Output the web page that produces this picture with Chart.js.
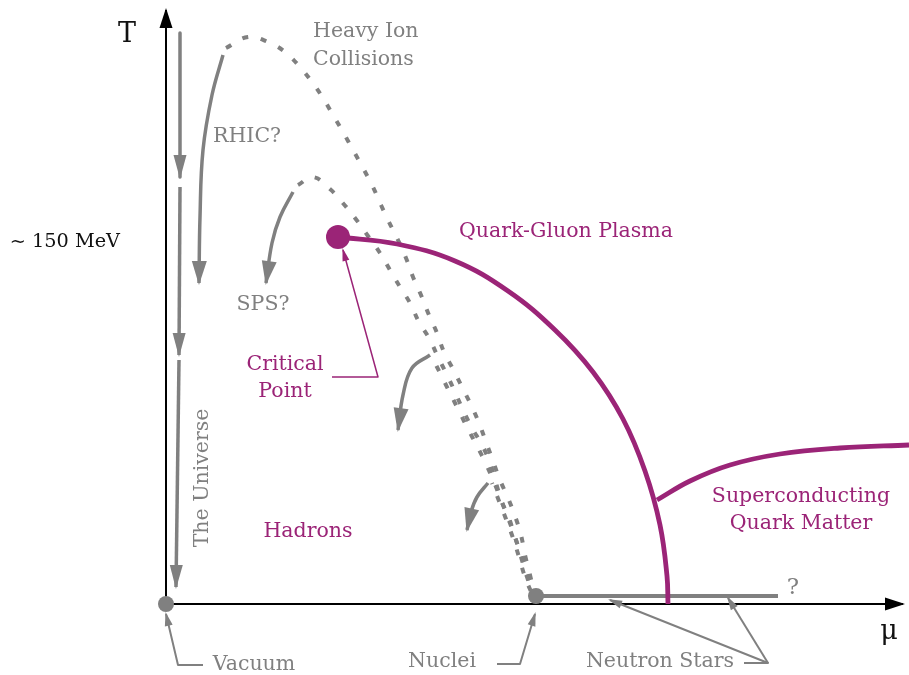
<!DOCTYPE html>
<html>
<head>
<meta charset="utf-8">
<script src="https://cdn.jsdelivr.net/npm/chart.js@4/dist/chart.umd.min.js"></script>
<style>
  html, body { margin: 0; padding: 0; background: #ffffff; }
  #wrap { width: 909px; height: 675px; }
</style>
</head>
<body>
<div id="wrap"><canvas id="c" width="909" height="675"></canvas></div>
<script>
// Axes are in arbitrary units (mu to the right, T upward), origin = vacuum.
// ---- Data ----
const phaseBoundary = [[172,367],[231,360],[289,343],[342,313],[389,274],[427,232],[457,185],[479,133],[494,79],[501,28],[502,0]];
const superconductingBoundary = [[491,104],[524,123],[564,139],[614,150],[674,156],[743,159]];
const neutronStarLine = [[370,8],[612,8]];
const criticalPoint = [[172,367]];
const vacuumPoint = [[0,0]];
const nucleiPoint = [[370,8]];

const rhicDotted = [[60,556],[82,567],[102,562],[119,552],[134,537],[146,522],[157,506],[167,489],[177,472],[187,454],[197,436],[207,417],[215,399],[223,382],[232,364],[240,346],[247,327],[255,309],[263,289],[271,271],[278,252],[287,235],[296,217],[305,199],[313,181],[320,162],[327,143],[334,124],[342,106],[349,88],[355,69],[359,49],[364,29],[368,12]];
const spsDotted = [[132,419],[147,427],[164,415],[176,402],[189,386],[202,368],[214,351],[224,334],[234,317],[244,301],[253,282],[263,266],[272,247],[281,229],[289,212],[297,194],[306,176],[316,159],[324,141],[330,121],[336,102],[343,86],[349,67],[356,47],[362,27],[367,11]];
const thirdDotted = [[266,247],[275,229],[284,211],[293,193],[302,175],[311,158],[320,140],[328,122],[335,104],[342,86],[349,67],[355,47],[361,27],[367,10]];
const fourthDotted = [[326,121],[333,103],[340,85],[347,66],[353,47],[359,27],[366,10]];

const rhicArrow = [[57,549],[46,509],[37,454],[34,387],[33,321]];
const spsArrow = [[127,412],[114,387],[106,361],[100,321]];
const thirdArrow = [[264,249],[246,236],[237,209],[232,174]];
const fourthArrow = [[322,121],[311,107],[305,92],[301,74]];
const universe1 = [[14,571],[14,427]];
const universe2 = [[14,417],[13,249]];
const universe3 = [[13,244],[10,17]];

const tAxis = [[0,0],[0,594]];
const muAxis = [[0,0],[737,0]];

const criticalPointer = [[166,227],[212,227],[177,354]];
const vacuumPointer = [[37,-61],[12,-61],[0,-10]];
const nucleiPointer = [[331,-60],[354,-60],[369,-10]];
const neutronPointerA = [[578,-59],[602,-59],[444,4]];
const neutronPointerB = [[602,-59],[562,6]];

const textLabels = [
  {text:'Heavy Ion', x:147, y:572, c:'gray', align:'left'},
  {text:'Collisions', x:147, y:544, c:'gray', align:'left'},
  {text:'RHIC?', x:47, y:467, c:'gray', align:'left'},
  {text:'SPS?', x:97, y:299, c:'gray'},
  {text:'Critical', x:119, y:239, c:'purple'},
  {text:'Point', x:119, y:212, c:'purple'},
  {text:'Quark-Gluon Plasma', x:400, y:372, c:'purple'},
  {text:'Hadrons', x:142, y:72, c:'purple'},
  {text:'Superconducting', x:635, y:107, c:'purple'},
  {text:'Quark Matter', x:635, y:80, c:'purple'},
  {text:'The Universe', x:37, y:126, c:'gray', rotate:true},
  {text:'Vacuum', x:88, y:-61, c:'gray'},
  {text:'Nuclei', x:276, y:-58, c:'gray'},
  {text:'Neutron Stars', x:494, y:-58, c:'gray'},
  {text:'?', x:627, y:16, c:'gray', size:23},
  {text:'~ 150 MeV', x:-46, y:362, c:'black', align:'right', size:19.3},
  {text:'T', x:-39, y:569, c:'black', size:27},
  {text:'\u03BC', x:723, y:-28, c:'black', size:27}
];

// ---- Styling ----
const PURPLE = '#9B2477';
const GRAY = '#808080';
const COLORS = {purple: PURPLE, gray: GRAY, black: '#111111'};
const FONT = '"DejaVu Serif", "Liberation Serif", serif';

const pts = arr => arr.map(p => ({x: p[0], y: p[1]}));
function line(arr, color, width, extra) {
  return Object.assign({
    data: pts(arr), showLine: true, borderColor: color, backgroundColor: color,
    borderWidth: width, pointRadius: 0, tension: 0, fill: false,
    borderCapStyle: 'butt', borderJoinStyle: 'round'
  }, extra || {});
}
function dot(arr, color, r) {
  return {data: pts(arr), showLine: false, pointRadius: r, pointHoverRadius: r,
          backgroundColor: color, borderColor: color, borderWidth: 0};
}

const DOTS = [6, 13];
const datasets = [
  dot(criticalPoint, PURPLE, 12),
  dot(vacuumPoint, GRAY, 8),
  dot(nucleiPoint, GRAY, 8),
  line(phaseBoundary, PURPLE, 4.8, {tension: 0.4}),
  line(superconductingBoundary, PURPLE, 4.8, {tension: 0.4}),
  line(neutronStarLine, GRAY, 4),
  line(rhicArrow, GRAY, 3.5, {tension: 0.4, arrowHead: {len: 22, w: 15}}),
  line(spsArrow, GRAY, 3.5, {tension: 0.4, arrowHead: {len: 22, w: 15}}),
  line(thirdArrow, GRAY, 3.5, {tension: 0.4, arrowHead: {len: 22, w: 15}}),
  line(fourthArrow, GRAY, 3.5, {tension: 0.4, arrowHead: {len: 22, w: 15}}),
  line(universe1, GRAY, 3.5, {arrowHead: {len: 22, w: 13}}),
  line(universe2, GRAY, 3.5, {arrowHead: {len: 22, w: 13}}),
  line(universe3, GRAY, 3.5, {arrowHead: {len: 22, w: 13}}),
  line(rhicDotted, GRAY, 4, {tension: 0.4, borderDash: DOTS}),
  line(spsDotted, GRAY, 4, {tension: 0.4, borderDash: DOTS}),
  line(thirdDotted, GRAY, 4, {tension: 0.4, borderDash: DOTS, borderDashOffset: 9}),
  line(fourthDotted, GRAY, 4, {tension: 0.4, borderDash: DOTS, borderDashOffset: 5}),
  line(criticalPointer, PURPLE, 1.5, {arrowHead: {len: 11, w: 7}}),
  line(vacuumPointer, GRAY, 2, {arrowHead: {len: 12, w: 8}}),
  line(nucleiPointer, GRAY, 2, {arrowHead: {len: 12, w: 8}}),
  line(neutronPointerA, GRAY, 2, {arrowHead: {len: 12, w: 8}}),
  line(neutronPointerB, GRAY, 2, {arrowHead: {len: 12, w: 8}}),
  line(tAxis, '#000000', 2, {arrowHead: {len: 18, w: 13}}),
  line(muAxis, '#000000', 2, {arrowHead: {len: 18, w: 13}})
];

const arrowPlugin = {
  id: 'arrowHeads',
  afterDatasetsDraw(chart) {
    const ctx = chart.ctx;
    chart.data.datasets.forEach((ds, i) => {
      if (!ds.arrowHead) return;
      const el = chart.getDatasetMeta(i).data;
      const a = el[el.length - 2], b = el[el.length - 1];
      const ang = Math.atan2(b.y - a.y, b.x - a.x);
      const {len, w} = ds.arrowHead;
      ctx.save();
      ctx.translate(b.x, b.y);
      ctx.rotate(ang);
      ctx.beginPath();
      ctx.moveTo(2, 0);
      ctx.lineTo(-len, w / 2);
      ctx.lineTo(-len, -w / 2);
      ctx.closePath();
      ctx.fillStyle = ds.borderColor;
      ctx.fill();
      ctx.restore();
    });
  }
};

const textPlugin = {
  id: 'textLabels',
  afterDatasetsDraw(chart) {
    const ctx = chart.ctx, xs = chart.scales.x, ys = chart.scales.y;
    textLabels.forEach(l => {
      const px = xs.getPixelForValue(l.x), py = ys.getPixelForValue(l.y);
      ctx.save();
      ctx.font = (l.size || 20.5) + 'px ' + FONT;
      ctx.fillStyle = COLORS[l.c];
      ctx.textAlign = l.align || 'center';
      ctx.textBaseline = 'middle';
      ctx.translate(px, py);
      if (l.rotate) ctx.rotate(-Math.PI / 2);
      ctx.fillText(l.text, 0, 0);
      ctx.restore();
    });
  }
};

new Chart(document.getElementById('c'), {
  type: 'scatter',
  data: {datasets},
  options: {
    responsive: false,
    animation: false,
    layout: {padding: 0, autoPadding: false},
    plugins: {legend: {display: false}, tooltip: {enabled: false}},
    events: [],
    scales: {
      x: {type: 'linear', min: -166, max: 743, display: false},
      y: {type: 'linear', min: -71, max: 604, display: false}
    }
  },
  plugins: [arrowPlugin, textPlugin]
});
</script>
</body>
</html>
